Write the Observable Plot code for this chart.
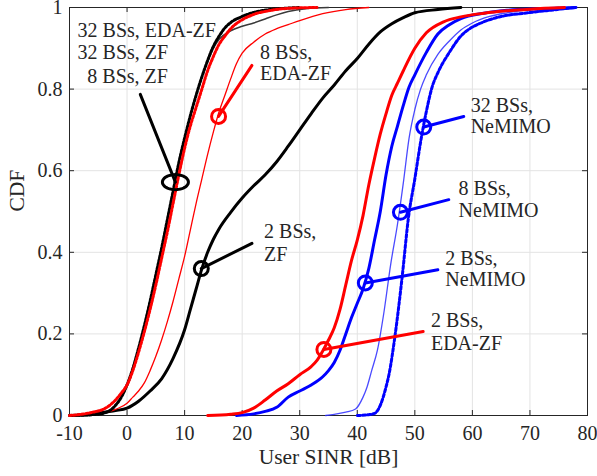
<!DOCTYPE html>
<html>
<head>
<meta charset="utf-8">
<script src="https://cdn.jsdelivr.net/npm/d3@7"></script>
<script src="https://cdn.jsdelivr.net/npm/@observablehq/plot@0.6"></script>
<style>
  html, body { margin: 0; padding: 0; background: #ffffff; overflow: hidden; }
</style>
</head>
<body>
<div id="chart"></div>
<script>
// ---- axis ticks ----
const xTicks = [-10, 0, 10, 20, 30, 40, 50, 60, 70, 80];
const yTicks = [0, 0.2, 0.4, 0.6, 0.8, 1];
const yTickLabels = ["0", "0.2", "0.4", "0.6", "0.8", "1"];
const xLabel = "User SINR [dB]";
const yLabel = "CDF";

// ---- series (x = SINR dB, y = CDF) ----
const zf32 = [[-10,0],[-6,0.002],[-4,0.006],[-3,0.012],[-2,0.025],[-1,0.045],[0,0.075],[1,0.115],[2,0.165],[3,0.22],[4,0.28],[5,0.345],[6,0.41],[7,0.48],[8,0.55],[9,0.62],[10,0.68],[11,0.735],[12,0.785],[13,0.83],[14,0.87],[15,0.905],[16,0.93],[17,0.95],[18,0.963],[20,0.978],[22,0.988],[25,0.995],[30,1]];
const edazf32 = [[-10,0],[-8,0.003],[-6,0.008],[-4,0.016],[-3,0.025],[-2,0.038],[-1,0.055],[0,0.075],[1,0.11],[2,0.155],[3,0.205],[4,0.26],[5,0.32],[6,0.385],[7,0.45],[8,0.52],[9,0.59],[10,0.655],[11,0.71],[12,0.755],[13,0.8],[14,0.845],[15,0.88],[16,0.91],[17,0.93],[18,0.948],[20,0.97],[22,0.983],[25,0.993],[28,0.998],[33,1]];
const zf8 = [[-10,0],[-6,0.002],[-4,0.006],[-3,0.012],[-2,0.025],[-1,0.045],[0,0.075],[1,0.115],[2,0.165],[3,0.22],[4,0.28],[5,0.345],[6,0.41],[7,0.48],[8,0.55],[9,0.62],[10,0.68],[11,0.735],[12,0.785],[13,0.83],[14,0.868],[15,0.9],[16,0.922],[18,0.943],[20,0.954],[22,0.962],[24,0.972],[26,0.982],[28,0.99],[31,0.997],[35,1]];
const edazf8 = [[-10,0],[-6,0.003],[-4,0.006],[-2,0.015],[0,0.03],[1,0.045],[2,0.06],[3,0.08],[4,0.11],[5,0.145],[6,0.185],[7,0.23],[8,0.28],[9,0.335],[10,0.39],[11,0.455],[12,0.52],[13,0.58],[14,0.64],[15,0.695],[16,0.745],[17,0.785],[18,0.825],[19,0.862],[20,0.888],[22,0.915],[24,0.935],[26,0.948],[28,0.958],[30,0.968],[34,0.985],[38,0.995],[42,1]];
const zf2 = [[-10,0],[-6,0.003],[-4,0.008],[-2,0.012],[0,0.018],[2,0.035],[4,0.06],[6,0.09],[8,0.14],[10,0.21],[11,0.26],[12,0.31],[13,0.36],[14,0.4],[15,0.432],[16,0.458],[18,0.498],[20,0.533],[22,0.563],[24,0.59],[26,0.622],[28,0.66],[30,0.7],[32,0.74],[34,0.778],[36,0.81],[38,0.845],[40,0.875],[42,0.91],[44,0.94],[46,0.96],[48,0.975],[50,0.987],[54,0.995],[58,1]];
const edazf2 = [[14,0],[18,0.003],[20,0.007],[22,0.018],[24,0.038],[26,0.06],[28,0.078],[30,0.1],[32,0.12],[33,0.135],[34,0.158],[35,0.185],[36,0.215],[37,0.26],[38,0.32],[39,0.38],[40,0.43],[41,0.49],[42,0.565],[43,0.63],[44,0.69],[45,0.74],[46,0.785],[47,0.815],[48,0.845],[50,0.9],[52,0.938],[55,0.965],[58,0.977],[62,0.986],[66,0.992],[70,0.996],[76,1]];
const nemimo2 = [[19,0],[22,0.004],[24,0.01],[26,0.02],[28,0.045],[30,0.06],[32,0.075],[34,0.095],[35,0.11],[36,0.13],[37,0.16],[38,0.2],[39,0.24],[40,0.275],[41,0.31],[42,0.36],[43,0.43],[44,0.5],[45,0.59],[46,0.66],[47,0.71],[48,0.76],[49,0.805],[50,0.835],[52,0.89],[54,0.935],[56,0.958],[58,0.973],[62,0.986],[66,0.993],[72,0.997],[78,1]];
const nemimo8 = [[34.5,0],[36,0.003],[38,0.008],[39.7,0.016],[41,0.045],[41.7,0.07],[42.5,0.11],[43.5,0.16],[44.6,0.25],[45.8,0.37],[47,0.47],[48,0.57],[49,0.68],[50,0.75],[51,0.8],[52,0.835],[54,0.885],[56,0.918],[58,0.945],[60,0.962],[63,0.978],[66,0.987],[70,0.995],[75,1]];
const nemimo32 = [[40,0],[42,0.002],[43,0.005],[44,0.025],[45,0.07],[45.5,0.1],[46.6,0.2],[47.8,0.34],[48.9,0.486],[50,0.58],[51,0.67],[52,0.745],[53,0.805],[54,0.84],[56,0.89],[58,0.93],[60,0.952],[62,0.965],[65,0.978],[69,0.986],[74,0.994],[78,1]];

// ---- annotations (data coordinates) ----
const annoText = [
  {x: -8.6, y: 0.944, text: "32 BSs, EDA-ZF"},
  {x: -8.6, y: 0.889, text: "32 BSs, ZF"},
  {x: -6.9, y: 0.831, text: "8 BSs, ZF"},
  {x: 23.1, y: 0.890, text: "8 BSs,"},
  {x: 23.1, y: 0.837, text: "EDA-ZF"},
  {x: 23.8, y: 0.451, text: "2 BSs,"},
  {x: 23.8, y: 0.395, text: "ZF"},
  {x: 59.7, y: 0.760, text: "32 BSs,"},
  {x: 59.7, y: 0.707, text: "NeMIMO"},
  {x: 57.6, y: 0.556, text: "8 BSs,"},
  {x: 57.6, y: 0.502, text: "NeMIMO"},
  {x: 55.3, y: 0.384, text: "2 BSs,"},
  {x: 55.3, y: 0.333, text: "NeMIMO"},
  {x: 52.8, y: 0.233, text: "2 BSs,"},
  {x: 52.8, y: 0.176, text: "EDA-ZF"}
];
const leaders = [
  {x1: 2.3, y1: 0.787, x2: 8.4, y2: 0.572, c: "black", inset: 8},
  {x1: 21.7, y1: 0.858, x2: 15.9, y2: 0.733, c: "#ff0000", inset: 7},
  {x1: 21.7, y1: 0.422, x2: 12.9, y2: 0.36, c: "black", inset: 7},
  {x1: 58.5, y1: 0.733, x2: 51.55, y2: 0.707, c: "#0000ff", inset: 7},
  {x1: 55.9, y1: 0.529, x2: 47.5, y2: 0.498, c: "#0000ff", inset: 7},
  {x1: 54.0, y1: 0.357, x2: 41.4, y2: 0.325, c: "#0000ff", inset: 7},
  {x1: 51.45, y1: 0.206, x2: 34.2, y2: 0.162, c: "#ff0000", inset: 7}
];
const circles = leaders.slice(1);
const ellipses = [leaders[0]];

const W = 597, H = 476, mL = 69, mR = 10, mT = 7, mB = 61;
const pw = W - mL - mR, ph = H - mT - mB;
const font = "'Liberation Serif', 'Times New Roman', serif";

const ellipseSymbol = {
  draw(ctx) {
    const rx = 13, ry = 7.5, n = 48;
    for (let i = 0; i <= n; i++) {
      const a = 2 * Math.PI * i / n;
      const px = rx * Math.cos(a), py = ry * Math.sin(a);
      if (i === 0) ctx.moveTo(px, py); else ctx.lineTo(px, py);
    }
    ctx.closePath();
  }
};

const line = (data, opts) => Plot.line(data, {x: d => d[0], y: d => d[1], curve: "monotone-x", ...opts});

const chart = Plot.plot({
  width: W, height: H,
  marginLeft: mL, marginRight: mR, marginTop: mT, marginBottom: mB,
  x: {domain: [-10, 80]},
  y: {domain: [0, 1]},
  style: {fontFamily: font, fontSize: "20px", background: "#ffffff", color: "#262626", overflow: "visible"},
  marks: [
    Plot.gridX(xTicks, {stroke: "#e3e3e3", strokeOpacity: 1, strokeWidth: 1}),
    Plot.gridY(yTicks, {stroke: "#e3e3e3", strokeOpacity: 1, strokeWidth: 1}),
    Plot.ruleX(xTicks, {insetTop: ph - 5, stroke: "#262626"}),
    Plot.ruleX(xTicks, {insetBottom: ph - 5, stroke: "#262626"}),
    Plot.ruleY(yTicks, {insetRight: pw - 5, stroke: "#262626"}),
    Plot.ruleY(yTicks, {insetLeft: pw - 5, stroke: "#262626"}),
    Plot.axisX(xTicks, {tickSize: 0, tickPadding: 10, tickFormat: d => String(d), label: null, fontSize: 20, fill: "#262626"}),
    Plot.axisY(yTicks, {tickSize: 0, tickPadding: 7, tickFormat: (d, i) => yTickLabels[i], label: null, fontSize: 20, fill: "#262626"}),
    Plot.frame({stroke: "#262626", strokeWidth: 1}),
    // curves
    line(zf2, {stroke: "black", strokeWidth: 3}),
    line(nemimo8, {stroke: "#2a2aff", strokeWidth: 1.3, strokeOpacity: 0.85}),
    line(nemimo32, {stroke: "#0000ff", strokeWidth: 3, strokeDasharray: "3,2.2"}),
    line(nemimo2, {stroke: "#0000ff", strokeWidth: 3}),
    line(edazf2, {stroke: "#ff0000", strokeWidth: 3}),
    line(edazf8, {stroke: "#ff0000", strokeWidth: 1.3}),
    line(zf8, {stroke: "#3a3a3a", strokeWidth: 1.5}),
    line(zf32, {stroke: "black", strokeWidth: 3, strokeDasharray: "2.2,1.8"}),
    line(edazf32, {stroke: "#ff0000", strokeWidth: 3, strokeDasharray: "2.2,1.8"}),
    // annotations
    Plot.arrow(leaders, {x1: "x1", y1: "y1", x2: "x2", y2: "y2", stroke: "c", strokeWidth: 3, headLength: 0, insetEnd: d => d.inset}),
    Plot.dot(circles, {x: "x2", y: "y2", r: 7, stroke: "c", strokeWidth: 3, fill: "none"}),
    Plot.dot(ellipses, {x: "x2", y: "y2", symbol: ellipseSymbol, r: 5, stroke: "c", strokeWidth: 3, fill: "none"}),
    Plot.text(annoText, {x: "x", y: "y", text: "text", textAnchor: "start", lineAnchor: "middle", fill: "#262626", fontSize: 20}),
    Plot.text([xLabel], {frameAnchor: "bottom", dy: 42, lineAnchor: "middle", fontSize: 21.5, fill: "#262626"}),
    Plot.text([yLabel], {frameAnchor: "left", dx: -52, rotate: -90, lineAnchor: "middle", fontSize: 21.5, fill: "#262626"})
  ]
});
document.getElementById("chart").appendChild(chart);
</script>
</body>
</html>
